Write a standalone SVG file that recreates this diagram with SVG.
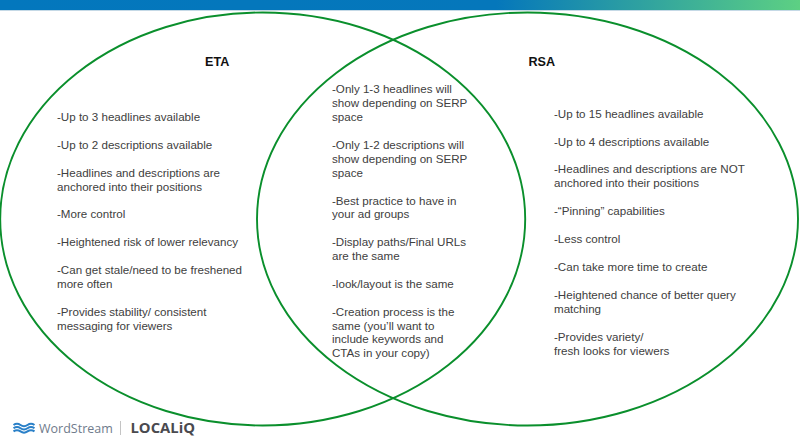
<svg xmlns="http://www.w3.org/2000/svg" width="800" height="446" viewBox="0 0 800 446">
<defs>
<linearGradient id="bar" x1="0" x2="1" y1="0" y2="0"><stop offset="0" stop-color="#0377bd"/><stop offset="0.62" stop-color="#0577bb"/><stop offset="1" stop-color="#5dd083"/></linearGradient>
</defs>
<style>
text{font-family:"Liberation Sans",Arial,sans-serif;font-size:11.6px;fill:#404040}
.h{font-weight:bold;font-size:12.6px;fill:#111}
.c{fill:none;stroke:#0a8f2c;stroke-width:1.9}
</style>
<rect width="800" height="446" fill="#fff"/>
<rect width="800" height="10" fill="url(#bar)"/>
<rect y="10" width="800" height="1" fill="#c5d9e6"/>
<g id="connectors"></g>
<g id="eta">
<ellipse class="c" cx="262.700" cy="219" rx="262.500" ry="206.500"/>
<text class="h" x="205" y="66">ETA</text>
<text x="57" y="121">-Up to 3 headlines available</text>
<text x="57" y="149">-Up to 2 descriptions available</text>
<text x="57" y="177">-Headlines and descriptions are</text>
<text x="57" y="191">anchored into their positions</text>
<text x="57" y="218">-More control</text>
<text x="57" y="246">-Heightened risk of lower relevancy</text>
<text x="57" y="274">-Can get stale/need to be freshened</text>
<text x="57" y="288">more often</text>
<text x="57" y="316">-Provides stability/ consistent</text>
<text x="57" y="330">messaging for viewers</text>
</g>
<g id="rsa">
<ellipse class="c" cx="527.500" cy="219" rx="270.500" ry="206.500"/>
<text class="h" x="528.500" y="66">RSA</text>
<text x="554" y="118">-Up to 15 headlines available</text>
<text x="554" y="146">-Up to 4 descriptions available</text>
<text x="554" y="173">-Headlines and descriptions are NOT</text>
<text x="554" y="187">anchored into their positions</text>
<text x="554" y="215">-“Pinning” capabilities</text>
<text x="554" y="243">-Less control</text>
<text x="554" y="271">-Can take more time to create</text>
<text x="554" y="299">-Heightened chance of better query</text>
<text x="554" y="313">matching</text>
<text x="554" y="341">-Provides variety/</text>
<text x="554" y="355">fresh looks for viewers</text>
</g>
<g id="both">
<text x="332" y="93">-Only 1-3 headlines will</text>
<text x="332" y="107">show depending on SERP</text>
<text x="332" y="121">space</text>
<text x="332" y="148.500">-Only 1-2 descriptions will</text>
<text x="332" y="162.500">show depending on SERP</text>
<text x="332" y="176.500">space</text>
<text x="332" y="204.500">-Best practice to have in</text>
<text x="332" y="218">your ad groups</text>
<text x="332" y="245.500">-Display paths/Final URLs</text>
<text x="332" y="259.500">are the same</text>
<text x="332" y="287.500">-look/layout is the same</text>
<text x="332" y="315.500">-Creation process is the</text>
<text x="332" y="329.500">same (you’ll want to</text>
<text x="332" y="343">include keywords and</text>
<text x="332" y="357">CTAs in your copy)</text>
</g>
<g id="logo">
<path d="M13.500 425q3.500-2.500 7 0t7 0t7 0M13.500 428.200q3.500-2.500 7 0t7 0t7 0M13.500 431.400q3.500-2.500 7 0t7 0t7 0" fill="none" stroke="#2a80c8" stroke-width="2"/>
<text x="39" y="433" style="font-family:'Open Sans',sans-serif;font-size:12.500px;fill:#6f7b8c">WordStream</text>
<rect x="120" y="421" width="1" height="14" fill="#c4c4c4"/>
<text x="130.500" y="433" style="font-family:'Open Sans',sans-serif;font-size:14.800px;font-weight:bold;fill:#4a4a4f">LOCALiQ</text>
</g>
</svg>
